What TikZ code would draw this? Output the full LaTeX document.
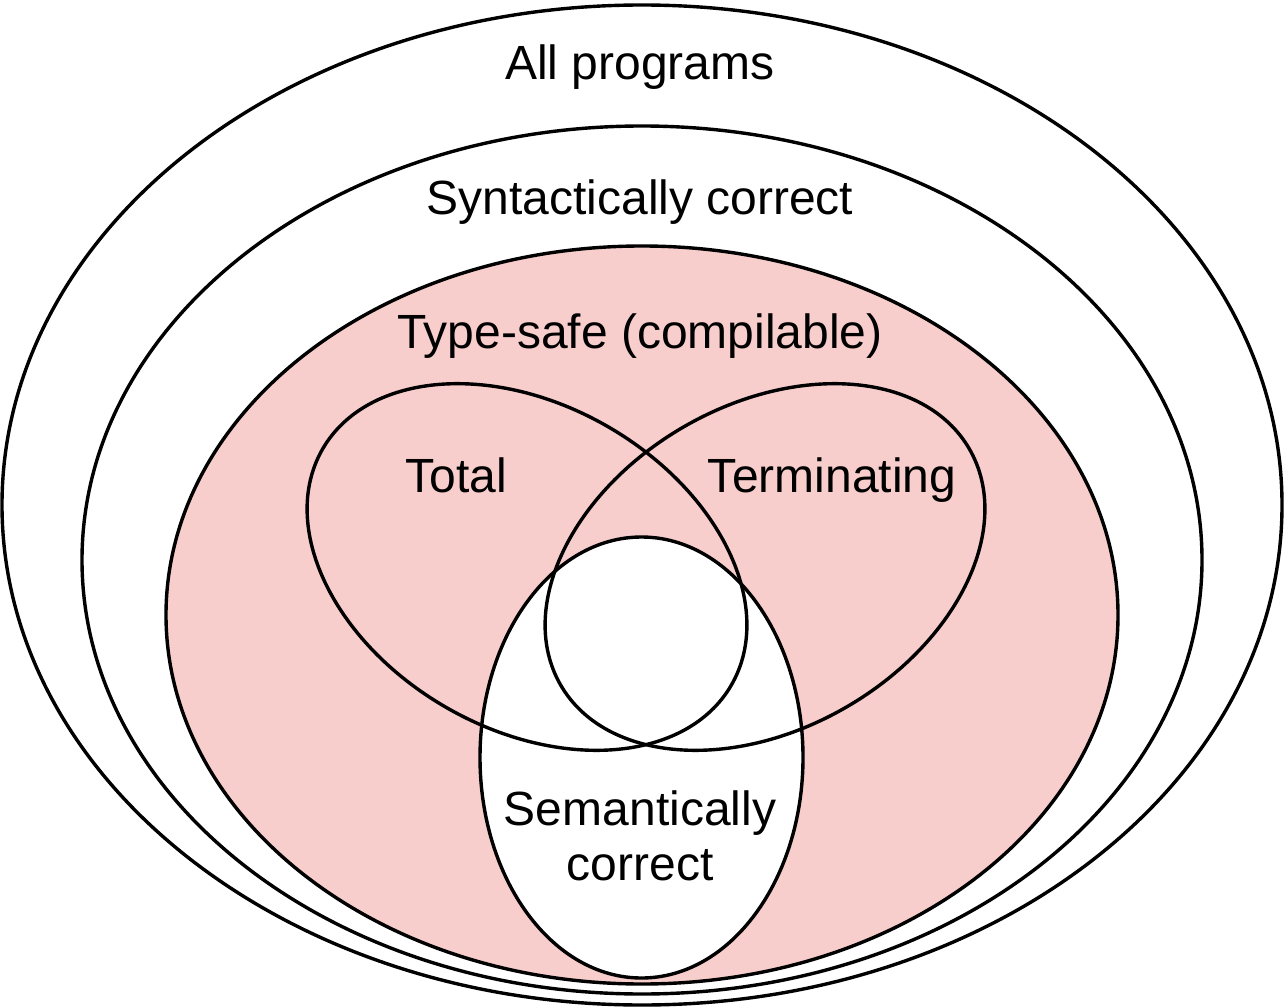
\documentclass[tikz,border=0pt]{standalone}
\usepackage{fontspec}
\setmainfont{Liberation Sans}
\definecolor{pinkfill}{HTML}{F8CECC}
\begin{document}
\begin{tikzpicture}[x=1pt,y=1pt,
  outline/.style={draw=black, line width=3.4pt},
  lbl/.style={anchor=base, inner sep=0pt, font=\fontsize{48}{56}\selectfont, align=center}]
\useasboundingbox (0,0) rectangle (1284,-1008);
% All programs
\path[outline, fill=white] (642,-505) ellipse [x radius=640pt, y radius=500pt];
% Syntactically correct
\path[outline] (642,-560) ellipse [x radius=560pt, y radius=434pt];
% Type-safe
\path[outline, fill=pinkfill] (642,-615) ellipse [x radius=476pt, y radius=369pt];
% Semantically correct (fill)
\path[fill=white] (641.5,-757.5) ellipse [x radius=161.5pt, y radius=220.5pt];
% Total
\begin{scope}[shift={(527,-567)}, rotate=-30]
  \path[outline] (0,0) ellipse [x radius=236pt, y radius=162pt];
\end{scope}
% Terminating
\begin{scope}[shift={(765,-567)}, rotate=30]
  \path[outline] (0,0) ellipse [x radius=236pt, y radius=162pt];
\end{scope}
% Semantically correct (outline)
\path[outline] (641.5,-757.5) ellipse [x radius=161.5pt, y radius=220.5pt];
% labels
\node[lbl] (tall) at (640,-80) {All programs};
\node[lbl] (tsyn) at (640,-215) {Syntactically correct};
\node[lbl] (ttype) at (640,-348) {Type-safe (compilable)};
\node[lbl] (ttot) at (456,-492) {Total};
\node[lbl] (tterm) at (832,-492) {Terminating};
\node[lbl] (tsem1) at (640,-825) {Semantically};
\node[lbl] (tsem2) at (640,-880) {correct};
\end{tikzpicture}
\end{document}
